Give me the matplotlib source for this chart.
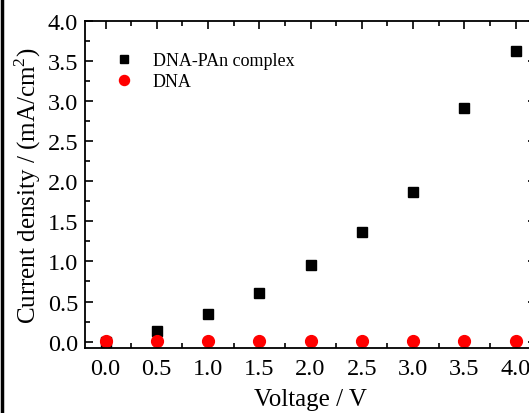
import matplotlib
matplotlib.use("Agg")
import matplotlib.pyplot as plt
from matplotlib.lines import Line2D
from matplotlib.ticker import MultipleLocator

voltage = [0.0, 0.5, 1.0, 1.5, 2.0, 2.5, 3.0, 3.5, 4.0]
complex_j = [0.0, 0.13, 0.34, 0.61, 0.96, 1.37, 1.87, 2.92, 3.62]
dna_j = [0.005, 0.005, 0.005, 0.005, 0.005, 0.005, 0.005, 0.005, 0.005]

plt.rcParams['font.family'] = ['Liberation Serif', 'DejaVu Serif']
plt.rcParams['mathtext.fontset'] = 'custom'
plt.rcParams['mathtext.rm'] = 'Liberation Serif'

fig = plt.figure(figsize=(5.29, 4.14), dpi=100)
ax = fig.add_axes([85 / 529, 65 / 414, 451 / 529, 327 / 414])

ax.plot(voltage, complex_j, 's', color='black', markersize=7.2, label='DNA-PAn complex')
ax.plot(voltage, dna_j, 'o', color='red', markersize=8.5, label='DNA')

ax.set_xlim(-0.2, 4.2)
ax.set_ylim(-0.08, 4.0)
ax.xaxis.set_major_locator(MultipleLocator(0.5))
ax.xaxis.set_minor_locator(MultipleLocator(0.25))
ax.yaxis.set_major_locator(MultipleLocator(0.5))
ax.yaxis.set_minor_locator(MultipleLocator(0.25))
ax.xaxis.set_major_formatter('{x:.1f}')
ax.yaxis.set_major_formatter('{x:.1f}')

ax.tick_params(which='both', direction='in', top=True, right=True, width=1.2)
ax.tick_params(which='major', length=6, labelsize=17.5, pad=7)
ax.tick_params(axis='y', which='major', pad=5)
ax.tick_params(which='minor', length=3.5)
for s in ax.spines.values():
    s.set_linewidth(1.3)

ax.set_xlabel('Voltage / V', fontsize=18, labelpad=7)
ax.set_ylabel('Current density / (mA/cm$^2$)', fontsize=18, labelpad=3)

ax.legend(loc='upper left', bbox_to_anchor=(0.01, 0.955), frameon=False,
          fontsize=13, handletextpad=0.6, labelspacing=0.25, markerscale=0.85)

fig.add_artist(Line2D([0.003, 0.003], [0, 1], color='black', linewidth=2.5,
                      transform=fig.transFigure))

fig.savefig('out.png', dpi=100)
